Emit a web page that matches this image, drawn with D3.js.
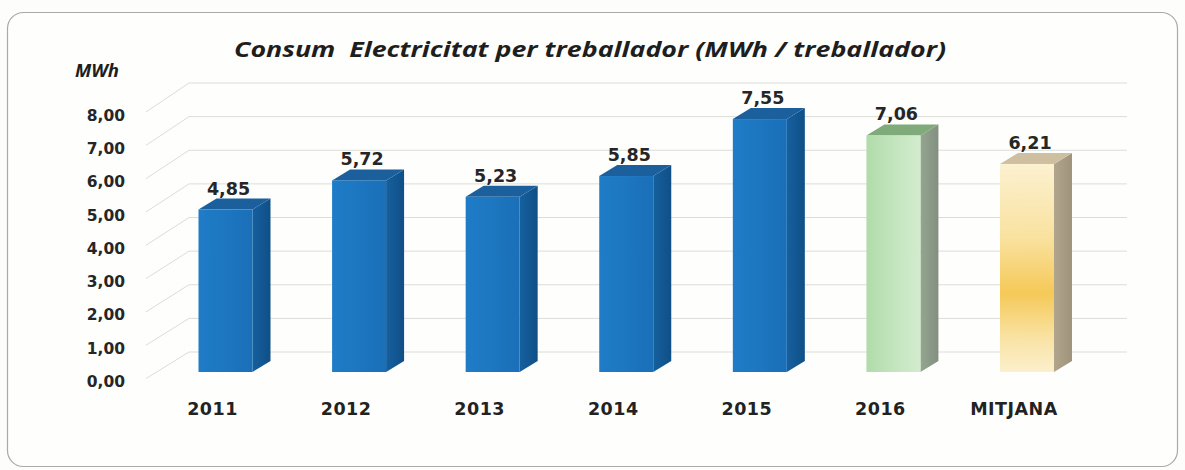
<!DOCTYPE html>
<html><head><meta charset="utf-8">
<script src="https://cdn.jsdelivr.net/npm/d3@7"></script>
<style>html,body{margin:0;padding:0;background:#fff;}svg{display:block;}</style>
</head><body>
<svg id="chart" width="1185" height="470"></svg>
<script>
const categories = ["2011","2012","2013","2014","2015","2016","MITJANA"];
const values = [4.85, 5.72, 5.23, 5.85, 7.55, 7.06, 6.21];
const yTicks = [0,1,2,3,4,5,6,7,8];
const valueLabels = ["4,85","5,72","5,23","5,85","7,55","7,06","6,21"];
const titleText = "Consum\u00A0 Electricitat per treballador (MWh / treballador)";
const unitText = "MWh";

const svg = d3.select("#chart");
const W = 1185, H = 470;
const defs = svg.append("defs");

// background & frame
svg.append("rect").attr("width",W).attr("height",H).attr("fill","#fdfdfb");
svg.append("rect").attr("x",7.5).attr("y",12.5).attr("width",1170).attr("height",454)
  .attr("rx",16).attr("fill","#fefefc").attr("stroke","#a9a9a6").attr("stroke-width",1.2);

// scales
const x = d3.scalePoint().domain(categories).range([225.5, 1027]);
const yBar = d3.scaleLinear().domain([0,8]).range([372, 104]);
const yBack = d3.scaleLinear().domain([0,8]).range([352, 83]);
const yLab = d3.scaleLinear().domain([0,8]).range([381.5, 115]);
const bw = 54, dx = 18, dy = -11;
const wallX0 = 146, wallX1 = 189, wallX2 = 1127;

// gridlines (back wall + left wall)
const grid = svg.append("g").attr("stroke","#dcdcd8").attr("stroke-width",1).attr("fill","none");
grid.selectAll("line.h").data(yTicks).join("line")
  .attr("x1",wallX1).attr("x2",wallX2).attr("y1",d=>yBack(d)).attr("y2",d=>yBack(d));
grid.selectAll("line.s").data(yTicks).join("line")
  .attr("x1",wallX0).attr("x2",wallX1).attr("y1",d=>yLab(d)-3).attr("y2",d=>yBack(d));

// y labels
svg.append("g").selectAll("text").data(yTicks).join("text")
  .attr("x",125).attr("y",d=>yLab(d)).attr("dy","0.36em").attr("text-anchor","end")
  .attr("font-family","DejaVu Sans").attr("font-weight","bold").attr("font-size",15.5)
  .attr("fill","#262626").text(d=>d3.format(".2f")(d).replace(".",","));

// colours
const styles = categories.map((c,i)=> i<5 ? "blue" : (i===5 ? "green" : "yellow"));
function grad(id, stops, vertical){
  const g = defs.append("linearGradient").attr("id",id)
    .attr("x1",0).attr("y1",0).attr("x2",vertical?0:1).attr("y2",vertical?1:0);
  stops.forEach(s=>g.append("stop").attr("offset",s[0]).attr("stop-color",s[1]));
}
grad("blueFront",[[0,"#1f7cc6"],[0.5,"#1d76c0"],[1,"#1a6fb8"]],false);
grad("blueSide",[[0,"#15609f"],[1,"#104f86"]],false);
grad("greenFront",[[0,"#b1dbab"],[0.6,"#c6e6c1"],[1,"#d2ecce"]],false);
grad("greenSide",[[0,"#93a68f"],[1,"#838f80"]],false);
grad("yellowFront",[[0,"#fcf1d0"],[0.35,"#f9e2a0"],[0.62,"#f5c958"],[0.85,"#f9e4a8"],[1,"#fcefcc"]],true);
grad("yellowSide",[[0,"#b1a58e"],[1,"#9f937c"]],false);
const topCol = {blue:"#1b5f9d", green:"#7faa79", yellow:"#cdbf9f"};

const bars = svg.append("g").selectAll("g").data(categories).join("g");
// side face
bars.append("path").attr("fill",(c,i)=>`url(#${styles[i]}Side)`)
  .attr("d",(c,i)=>{
    const xr = x(c)+bw/2, yt = yBar(values[i]), yb = yBar(0);
    return `M${xr},${yt}L${xr+dx},${yt+dy}L${xr+dx},${yb+dy}L${xr},${yb}Z`;
  });
// top face
bars.append("path").attr("fill",(c,i)=>topCol[styles[i]])
  .attr("d",(c,i)=>{
    const xl = x(c)-bw/2, xr = x(c)+bw/2, yt = yBar(values[i]);
    return `M${xl},${yt}L${xl+dx},${yt+dy}L${xr+dx},${yt+dy}L${xr},${yt}Z`;
  });
// front face
bars.append("rect").attr("fill",(c,i)=>`url(#${styles[i]}Front)`)
  .attr("x",c=>x(c)-bw/2).attr("width",bw)
  .attr("y",(c,i)=>yBar(values[i])).attr("height",(c,i)=>yBar(0)-yBar(values[i]));

// value labels
svg.append("g").selectAll("text").data(categories).join("text")
  .attr("x",c=>x(c)+3).attr("y",(c,i)=>yBar(values[i])+dy-4)
  .attr("text-anchor","middle").attr("font-family","DejaVu Sans").attr("font-weight","bold")
  .attr("font-size",17.5).attr("fill","#262626").text((c,i)=>valueLabels[i]);

// category labels
svg.append("g").selectAll("text").data(categories).join("text")
  .attr("x",c=>x(c)-13).attr("y",415).attr("text-anchor","middle")
  .attr("font-family","DejaVu Sans").attr("font-weight","bold").attr("font-size",17.5)
  .attr("letter-spacing",0.5).attr("fill","#222").text(c=>c);

// title
svg.append("text").attr("x",590).attr("y",57).attr("text-anchor","middle")
  .attr("font-family","Open Sans").attr("font-style","italic").attr("font-weight","bold")
  .attr("font-size",21.5).attr("fill","#1e1e1e")
  .attr("textLength",712).attr("lengthAdjust","spacingAndGlyphs").text(titleText);
svg.append("text").attr("x",75).attr("y",77)
  .attr("font-family","Open Sans").attr("font-style","italic").attr("font-weight","bold")
  .attr("font-size",18.5).attr("fill","#1e1e1e").text(unitText);
</script>
</body></html>
